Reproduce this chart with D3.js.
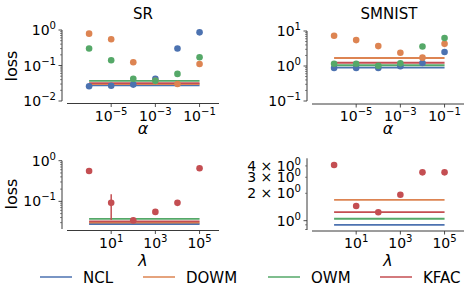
<!DOCTYPE html>
<html>
<head>
<meta charset="utf-8">
<script src="https://cdn.jsdelivr.net/npm/d3@7"></script>
<style>
  body { margin: 0; background: #fff; }
  text { font-family: "DejaVu Sans", sans-serif; fill: #000; }
</style>
</head>
<body>
<svg width="473" height="298"></svg>
<script>
// ---- data ----
const methods = ["NCL", "DOWM", "OWM", "KFAC"];
const colors = ["#4c72b0", "#dd8452", "#55a868", "#c44e52"];
const alphas = [1e-6, 1e-5, 1e-4, 1e-3, 1e-2, 1e-1];
const lambdas = [1e0, 1e1, 1e2, 1e3, 1e4, 1e5];

// SR, loss vs alpha (NCL, DOWM, OWM)
const srNCL = [0.026, 0.027, 0.029, 0.042, 0.30, 0.86];
const srDOWM = [0.79, 0.55, 0.123, 0.037, 0.030, 0.11];
const srOWM = [0.30, 0.14, 0.042, 0.037, 0.058, 0.17];
const srBase = [0.0277, 0.030, 0.037, 0.032];

// SMNIST, loss vs alpha
const smNCL = [0.88, 0.88, 0.88, 0.98, 1.22, 2.5];
const smDOWM = [7.3, 5.5, 3.7, 2.4, 1.73, 4.3];
const smOWM = [1.16, 1.16, 1.02, 1.19, 3.6, 6.3];
const smBase = [0.90, 1.69, 1.05, 1.24];

// KFAC, loss vs lambda
const srKFAC = [0.56, 0.092, 0.034, 0.055, 0.092, 0.65];
const srKFACerr = [null, [0.035, 0.15], null, null, null, null];
const smKFAC = [4.1, 1.45, 1.24, 1.93, 3.4, 3.4];

const svg = d3.select("svg");

function powLabel(g, x, y, anchor, exp, prefix, size) {
  const t = g.append("text").attr("x", x).attr("y", y)
    .attr("text-anchor", anchor).attr("font-size", size);
  t.append("tspan").text((prefix || "") + "10");
  t.append("tspan").attr("dy", -size * 0.42).attr("font-size", size * 0.72)
    .text(exp < 0 ? "\u2212" + (-exp) : String(exp));
}

function panel(opt) {
  const g = svg.append("g");
  const x = d3.scaleLog().domain(opt.xDomain).range([opt.x0, opt.x1]);
  const y = d3.scaleLog().domain(opt.yDomain).range([opt.y1, opt.y0]);
  const ax = opt.ax; // y spine x
  const ay = opt.ay; // x spine y

  // y spine and ticks
  g.append("line").attr("x1", ax).attr("x2", ax).attr("y1", opt.y0).attr("y2", opt.y1)
    .attr("stroke", "#3a3a3a").attr("stroke-width", 1);
  const lo = Math.floor(Math.log10(opt.yDomain[0])), hi = Math.ceil(Math.log10(opt.yDomain[1]));
  const eps = 1e-9;
  for (let e = lo; e <= hi; e++) {
    for (let m = 1; m < 10; m++) {
      const v = m * Math.pow(10, e);
      if (v < opt.yDomain[0] * (1 - eps) || v > opt.yDomain[1] * (1 + eps)) continue;
      const len = m === 1 ? 3.5 : 2;
      g.append("line").attr("x1", ax - len).attr("x2", ax).attr("y1", y(v)).attr("y2", y(v))
        .attr("stroke", "#3a3a3a").attr("stroke-width", m === 1 ? 0.9 : 0.6);
    }
  }
  opt.yTicks.forEach(t => {
    powLabel(g, ax - 6, y(t.v) + 5, "end", t.e, t.prefix, 14);
  });

  // x spine and ticks
  g.append("line").attr("x1", opt.x0).attr("x2", opt.x1).attr("y1", ay).attr("y2", ay)
    .attr("stroke", "#3a3a3a").attr("stroke-width", 1);
  opt.xTicks.forEach(e => {
    const v = Math.pow(10, e);
    g.append("line").attr("x1", x(v)).attr("x2", x(v)).attr("y1", ay).attr("y2", ay + 3.5)
      .attr("stroke", "#3a3a3a").attr("stroke-width", 0.9);
    powLabel(g, x(v), ay + 17, "middle", e, "", 14);
  });

  // baselines
  opt.base.forEach((b, i) => {
    g.append("line").attr("x1", x(opt.xs[0])).attr("x2", x(opt.xs[opt.xs.length - 1]))
      .attr("y1", y(b)).attr("y2", y(b))
      .attr("stroke", colors[i]).attr("stroke-width", 1.8);
  });

  // error bars
  (opt.errs || []).forEach(es => {
    es.vals.forEach((e, k) => {
      if (!e) return;
      g.append("line").attr("x1", x(opt.xs[k])).attr("x2", x(opt.xs[k]))
        .attr("y1", y(e[0])).attr("y2", y(e[1]))
        .attr("stroke", colors[es.c]).attr("stroke-width", 1.5);
    });
  });

  // points
  opt.series.forEach(s => {
    g.selectAll(null).data(s.vals).enter().append("circle")
      .attr("cx", (d, k) => x(opt.xs[k])).attr("cy", d => y(d))
      .attr("r", 3.3).attr("fill", colors[s.c]);
  });

  if (opt.title) {
    g.append("text").attr("x", opt.titleX).attr("y", 19).attr("text-anchor", "middle")
      .attr("font-size", 15).text(opt.title);
  }
  g.append("text").attr("x", (opt.x0 + opt.x1) / 2).attr("y", opt.xlabY)
    .attr("text-anchor", "middle").attr("font-size", 16).attr("font-style", "italic")
    .text(opt.xlabel);
  if (opt.ylabel) {
    g.append("text").attr("transform", `translate(17,${opt.ylabY}) rotate(-90)`)
      .attr("text-anchor", "middle").attr("font-size", 16).text(opt.ylabel);
  }
}

panel({
  title: "SR", titleX: 143, ylabel: "loss", ylabY: 66, xlabel: "\u03b1", xlabY: 134,
  xDomain: [1e-7, Math.pow(10, -0.12)], x0: 67, x1: 219,
  yDomain: [1e-2, 1], y0: 30, y1: 101, ax: 62, ay: 103.5,
  xs: alphas, xTicks: [-5, -3, -1],
  yTicks: [{ v: 1, e: 0 }, { v: 0.1, e: -1 }, { v: 0.01, e: -2 }],
  base: srBase,
  series: [{ vals: srNCL, c: 0 }, { vals: srDOWM, c: 1 }, { vals: srOWM, c: 2 }]
});

panel({
  title: "SMNIST", titleX: 389, xlabel: "\u03b1", xlabY: 134,
  xDomain: [1e-7, Math.pow(10, -0.12)], x0: 312, x1: 464,
  yDomain: [0.1, 10], y0: 31, y1: 101, ax: 307, ay: 104,
  xs: alphas, xTicks: [-5, -3, -1],
  yTicks: [{ v: 10, e: 1 }, { v: 1, e: 0 }, { v: 0.1, e: -1 }],
  base: smBase,
  series: [{ vals: smNCL, c: 0 }, { vals: smDOWM, c: 1 }, { vals: smOWM, c: 2 }]
});

panel({
  ylabel: "loss", ylabY: 194, xlabel: "\u03bb", xlabY: 266,
  xDomain: [1e-1, Math.pow(10, 5.88)], x0: 67, x1: 219,
  yDomain: [Math.pow(10, -1.68), 1], y0: 160.7, y1: 229, ax: 62, ay: 230.5,
  xs: lambdas, xTicks: [1, 3, 5],
  yTicks: [{ v: 1, e: 0 }, { v: 0.1, e: -1 }],
  base: srBase,
  errs: [{ vals: srKFACerr, c: 3 }],
  series: [{ vals: srKFAC, c: 3 }]
});

panel({
  xlabel: "\u03bb", xlabY: 266,
  xDomain: [1e-1, Math.pow(10, 5.88)], x0: 312, x1: 464,
  yDomain: [0.79, 4.85], y0: 158.3, y1: 230, ax: 307, ay: 231,
  xs: lambdas, xTicks: [1, 3, 5],
  yTicks: [{ v: 4, e: 0, prefix: "4 \u00d7 " }, { v: 3, e: 0, prefix: "3 \u00d7 " },
           { v: 2, e: 0, prefix: "2 \u00d7 " }, { v: 1, e: 0 }],
  base: smBase,
  series: [{ vals: smKFAC, c: 3 }]
});

// legend
const legX = [40, 143, 268, 380];
const leg = svg.append("g");
methods.forEach((m, i) => {
  leg.append("line").attr("x1", legX[i]).attr("x2", legX[i] + 32).attr("y1", 277).attr("y2", 277)
    .attr("stroke", colors[i]).attr("stroke-width", 1.5);
  leg.append("text").attr("x", legX[i] + 43).attr("y", 282.5).attr("font-size", 15).text(m);
});
</script>
</body>
</html>
